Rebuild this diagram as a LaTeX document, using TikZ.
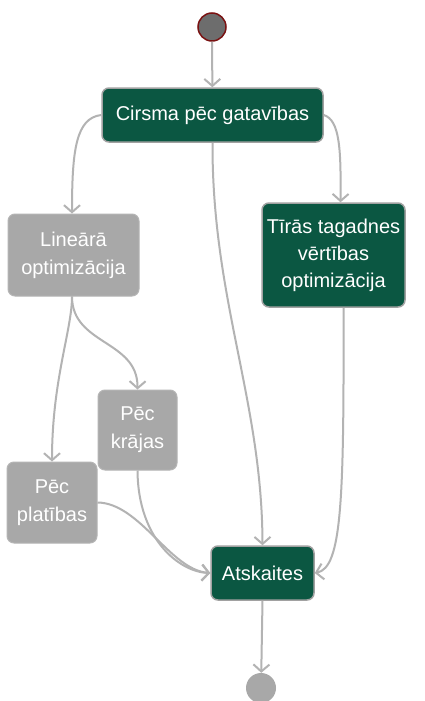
\documentclass[tikz,border=0pt]{standalone}
\usepackage{fontspec}
\setmainfont{Liberation Sans}
\usetikzlibrary{arrows.meta}
\definecolor{dgreen}{HTML}{0B5742}
\definecolor{boxgray}{HTML}{A8A8A8}
\definecolor{edgegray}{HTML}{B3B3B3}
\definecolor{startfill}{HTML}{6D6D6D}
\definecolor{startborder}{HTML}{7A1212}
\begin{document}
\begin{tikzpicture}[x=1pt,y=-1pt,
  greenbox/.style={draw=edgegray!90!black, line width=1.5pt, fill=dgreen, rounded corners=7pt, text=white, align=center, inner sep=0pt, font=\fontsize{20}{27}\selectfont},
  graybox/.style={draw=boxgray!85!white, line width=1pt, fill=boxgray, rounded corners=7pt, text=white, align=center, inner sep=0pt, font=\fontsize{20}{28}\selectfont},
  conn/.style={draw=edgegray, line width=2pt, -{Straight Barb[length=7pt,width=16pt,line width=2pt]}}]
\useasboundingbox (0,0) rectangle (424,701);
\fill[white] (0,0) rectangle (424,701);

\node[circle, draw=startborder, line width=1.5pt, fill=startfill, minimum size=28pt, inner sep=0pt] (start) at (212,27) {};
\node[greenbox, minimum width=221pt, minimum height=54pt] (cirsma) at (212.5,115) {Cirsma pēc gatavības};
\node[graybox, minimum width=131pt, minimum height=82pt] (lin) at (73.5,255) {Lineārā\\optimizācija};
\node[greenbox, minimum width=143pt, minimum height=104pt] (tir) at (333.5,255) {Tīrās tagadnes\\vērtības\\optimizācija};
\node[graybox, minimum width=79pt, minimum height=80pt] (kraj) at (137.5,430) {Pēc\\krājas};
\node[graybox, minimum width=90pt, minimum height=81pt] (plat) at (52,502.5) {Pēc\\platības};
\node[greenbox, minimum width=103pt, minimum height=54pt] (ats) at (262.5,573) {Atskaites};
\node[circle, fill=boxgray, minimum size=30pt, inner sep=0pt] (end) at (261,688) {};

\draw[conn] (start) -- (cirsma);
\draw[conn] (cirsma.west) .. controls (76,118) and (72,150) .. ([xshift=-1.5pt]lin.north);
\draw[conn] (cirsma.east) .. controls (340,120) and (341,150) .. ([xshift=7pt]tir.north);
\draw[conn] (cirsma.south) .. controls (212,300) and (262,400) .. (ats.north);
\draw[conn] ([xshift=-1.5pt]lin.south) .. controls (72,345) and (138,340) .. (kraj.north);
\draw[conn] ([xshift=-1.5pt]lin.south) .. controls (72,330) and (52,380) .. (plat.north);
\draw[conn] ([xshift=10pt]tir.south) .. controls (344,500) and (342,568) .. (ats.east);
\draw[conn] (kraj.south) .. controls (138,540) and (180,572) .. (ats.west);
\draw[conn] (plat.east) .. controls (140,503) and (170,570) .. (ats.west);
\draw[conn] (ats.south) -- (end);
\end{tikzpicture}
\end{document}
